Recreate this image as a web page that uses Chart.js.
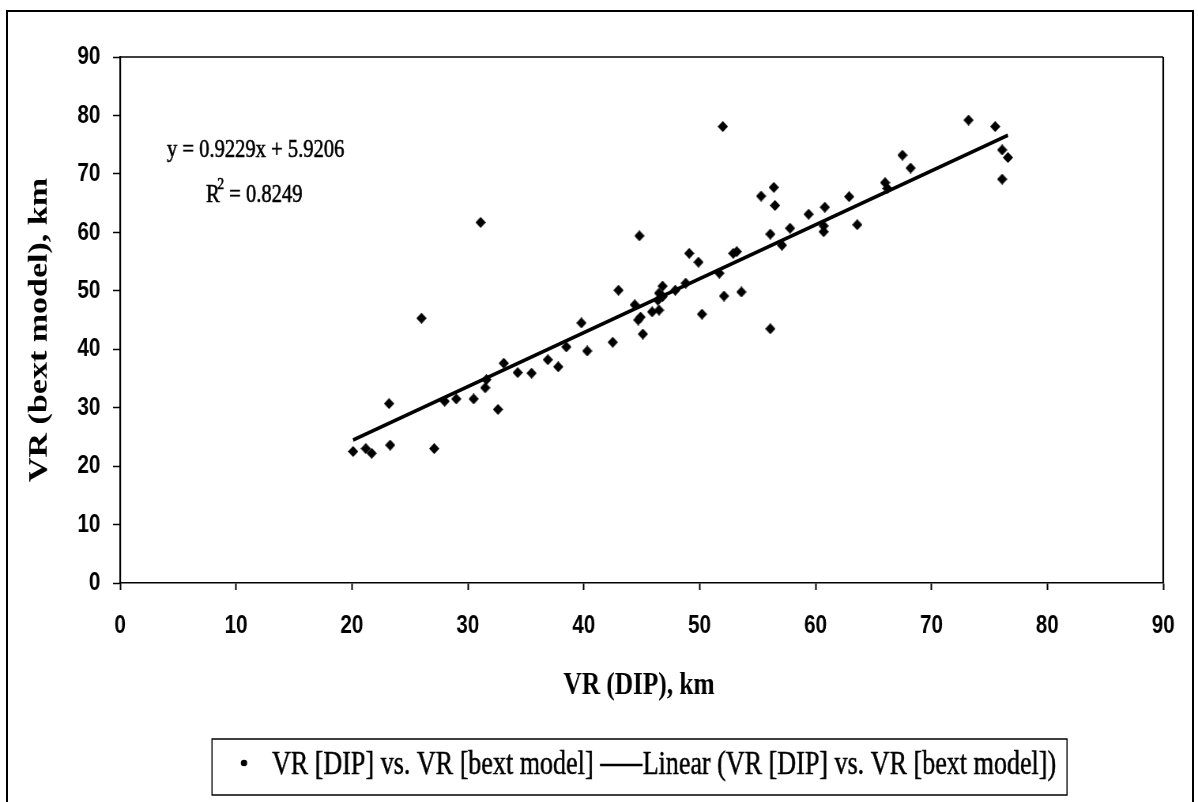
<!DOCTYPE html>
<html>
<head>
<meta charset="utf-8">
<title>VR (DIP) vs. VR (bext model)</title>
<script src="https://cdn.jsdelivr.net/npm/chart.js@4.4.1/dist/chart.umd.min.js"></script>
<style>
  html, body { margin:0; padding:0; background:#fff; }
  #wrap { position:relative; width:1198px; height:802px; overflow:hidden; background:#fff; }
  #frame { position:absolute; left:6px; top:10px; width:1188px; height:800px; border:2px solid #000; box-sizing:border-box; pointer-events:none; }
  /* the canvas is drawn wide and squeezed back to page width, which gives the narrow lettering */
  #chart { position:absolute; left:0; top:0; transform:scaleX(0.79024); transform-origin:0 0; }
</style>
</head>
<body>
<div id="wrap">
  <canvas id="chart" width="1516" height="802"></canvas>
  <div id="frame"></div>
</div>
<script>
// ---------- Data ----------
const dipVR = [
  20.1, 21.2, 21.7, 23.3, 23.2, 26.0, 27.1, 31.1, 28.0, 29.0,
  30.5, 31.5, 31.6, 32.6, 33.1, 34.3, 35.5, 36.9, 37.8, 38.5,
  39.8, 40.3, 42.5, 43.0, 44.8, 44.4, 44.7, 44.9, 45.1, 45.9,
  46.5, 46.4, 46.5, 46.8, 46.8, 47.9, 48.8, 49.1, 49.9, 50.2,
  51.7, 52.1, 52.0, 52.9, 53.2, 53.6, 55.3, 56.1, 56.4, 56.5,
  56.1, 57.1, 57.8, 59.4, 60.7, 60.7, 60.8, 62.9, 63.6, 66.0,
  66.2, 67.5, 68.2, 73.2, 75.5, 76.1, 76.6, 76.1
];
const bextVR = [
  22.5, 23.0, 22.2, 23.6, 30.7, 45.3, 23.0, 61.7, 31.1, 31.5,
  31.5, 33.4, 34.8, 29.7, 37.6, 36.0, 35.9, 38.2, 37.0, 40.4,
  44.5, 39.7, 41.2, 50.1, 59.4, 47.6, 45.0, 45.5, 42.6, 46.4,
  46.7, 48.4, 49.6, 50.8, 49.0, 50.1, 51.3, 56.4, 54.9, 46.0,
  53.0, 49.1, 78.1, 56.4, 56.7, 49.8, 66.2, 59.7, 67.7, 64.6,
  43.5, 57.8, 60.7, 63.1, 60.1, 61.1, 64.3, 66.1, 61.3, 68.5,
  67.5, 73.2, 71.0, 79.2, 78.1, 74.1, 72.8, 69.1
];
const slope = 0.9229;
const intercept = 5.9206;
const rSquared = 0.8249;
const axisTicks = [0, 10, 20, 30, 40, 50, 60, 70, 80, 90];

const seriesLabel = 'VR [DIP] vs. VR [bext model]';
const trendLabel = 'Linear (VR [DIP] vs. VR [bext model])';
const xTitle = 'VR (DIP), km';
const yTitle = 'VR (bext model), km';

// ---------- Helpers ----------
const SQ = 1198 / 1516;          // css squeeze along x
const cx = v => v / SQ;          // page px -> canvas px (x only)
const SERIF = '"Liberation Serif", "Times New Roman", serif';
const SANS = '"Liberation Sans", Arial, sans-serif';

// diamond marker, pre-widened so it comes out square after the squeeze
function diamond(w, h){
  const c = document.createElement('canvas');
  c.width = w; c.height = h;
  const g = c.getContext('2d');
  g.fillStyle = '#000';
  g.beginPath();
  g.moveTo(w/2, 0); g.lineTo(w, h/2); g.lineTo(w/2, h); g.lineTo(0, h/2);
  g.closePath(); g.fill();
  return c;
}
const marker = diamond(13, 11);

// text with a hairline outline, a bit heavier than plain fill
function heavyText(ctx, s, x, y){
  ctx.fillText(s, x, y);
  ctx.strokeText(s, x, y);
}

const points = dipVR.map((x, i) => ({ x, y: bextVR[i] }));
const xMin = Math.min(...dipVR), xMax = Math.max(...dipVR);
const trend = [xMin, xMax].map(x => ({ x, y: slope * x + intercept }));

// ---------- Extras drawn on top: plot frame, equation, titles, legend ----------
const extras = {
  id: 'extras',
  afterDraw(chart){
    const { ctx, chartArea: a } = chart;
    ctx.save();
    ctx.strokeStyle = '#000';
    // plot area frame (top and right edges)
    ctx.lineWidth = 1.5;
    ctx.beginPath(); ctx.moveTo(a.left, a.top); ctx.lineTo(a.right, a.top); ctx.stroke();
    ctx.lineWidth = 2.2;
    ctx.beginPath(); ctx.moveTo(a.right, a.top); ctx.lineTo(a.right, a.bottom); ctx.stroke();

    ctx.fillStyle = '#000';
    ctx.textBaseline = 'alphabetic';
    ctx.lineWidth = 0.6;

    // regression equation
    ctx.font = '26px ' + SERIF;
    ctx.textAlign = 'left';
    heavyText(ctx, 'y = ' + slope + 'x + ' + intercept, cx(167), 157);
    let x0 = cx(206);
    heavyText(ctx, 'R', x0, 202);
    x0 += ctx.measureText('R').width - 3;
    ctx.font = '17px ' + SERIF;
    heavyText(ctx, '2', x0, 189);
    x0 += ctx.measureText('2').width;
    ctx.font = '26px ' + SERIF;
    heavyText(ctx, ' = ' + rSquared, x0, 202);

    // axis titles
    ctx.font = 'bold 32px ' + SERIF;
    ctx.textAlign = 'center';
    ctx.textBaseline = 'middle';
    ctx.fillText(xTitle, cx(639), 686);
    ctx.save();
    ctx.translate(cx(40), 330);
    ctx.rotate(-Math.PI / 2);
    ctx.font = 'bold 34px ' + SERIF;
    ctx.fillText(yTitle, 0, 0);
    ctx.restore();

    // legend box
    const ds = chart.data.datasets;
    ctx.lineWidth = 1.5;
    ctx.strokeRect(cx(212), 739, cx(1067) - cx(212), 56);
    ctx.beginPath();
    ctx.ellipse(cx(244), 763, 3.2 / SQ, 3.2, 0, 0, Math.PI * 2);
    ctx.fill();
    ctx.font = '33px ' + SERIF;
    ctx.textAlign = 'left';
    ctx.textBaseline = 'alphabetic';
    ctx.lineWidth = 0.5;
    let lx = cx(272);
    heavyText(ctx, ds[1].label, lx, 774);
    lx += ctx.measureText(ds[1].label).width + 8;
    ctx.lineWidth = 2.5;
    ctx.beginPath(); ctx.moveTo(lx, 765); ctx.lineTo(lx + 54, 765); ctx.stroke();
    lx += 54;
    ctx.lineWidth = 0.5;
    heavyText(ctx, ds[0].label, lx, 774);
    ctx.restore();
  }
};

// ---------- Chart ----------
const tickFont = { family: SANS, size: 26, weight: 'bold' };

new Chart(document.getElementById('chart').getContext('2d'), {
  type: 'scatter',
  data: {
    datasets: [
      {
        label: trendLabel,
        data: trend,
        showLine: true,
        borderColor: '#000',
        borderWidth: 3.8,
        pointRadius: 0,
        order: 0
      },
      {
        label: seriesLabel,
        data: points,
        pointStyle: marker,
        pointRadius: 5,
        order: 1
      }
    ]
  },
  options: {
    responsive: false,
    animation: false,
    events: [],
    layout: { padding: { top: 57, right: 44, left: 0, bottom: 0 } },
    plugins: { legend: { display: false }, tooltip: { enabled: false } },
    scales: {
      x: {
        type: 'linear', min: 0, max: 90,
        afterBuildTicks: s => { s.ticks = axisTicks.map(v => ({ value: v })); },
        afterFit: s => { s.height = 219; },
        grid: { drawOnChartArea: false, tickLength: 7, tickColor: '#000', tickWidth: 2 },
        border: { color: '#000', width: 1.5 },
        ticks: { color: '#000', font: tickFont, padding: 20, maxRotation: 0 }
      },
      y: {
        type: 'linear', min: 0, max: 90,
        afterBuildTicks: s => { s.ticks = axisTicks.map(v => ({ value: v })); },
        afterFit: s => { s.width = 152; },
        grid: { drawOnChartArea: false, tickLength: 9, tickColor: '#000', tickWidth: 1.5 },
        border: { color: '#000', width: 2.2 },
        ticks: { color: '#000', font: tickFont, padding: 16 }
      }
    }
  },
  plugins: [extras]
});
</script>
</body>
</html>
